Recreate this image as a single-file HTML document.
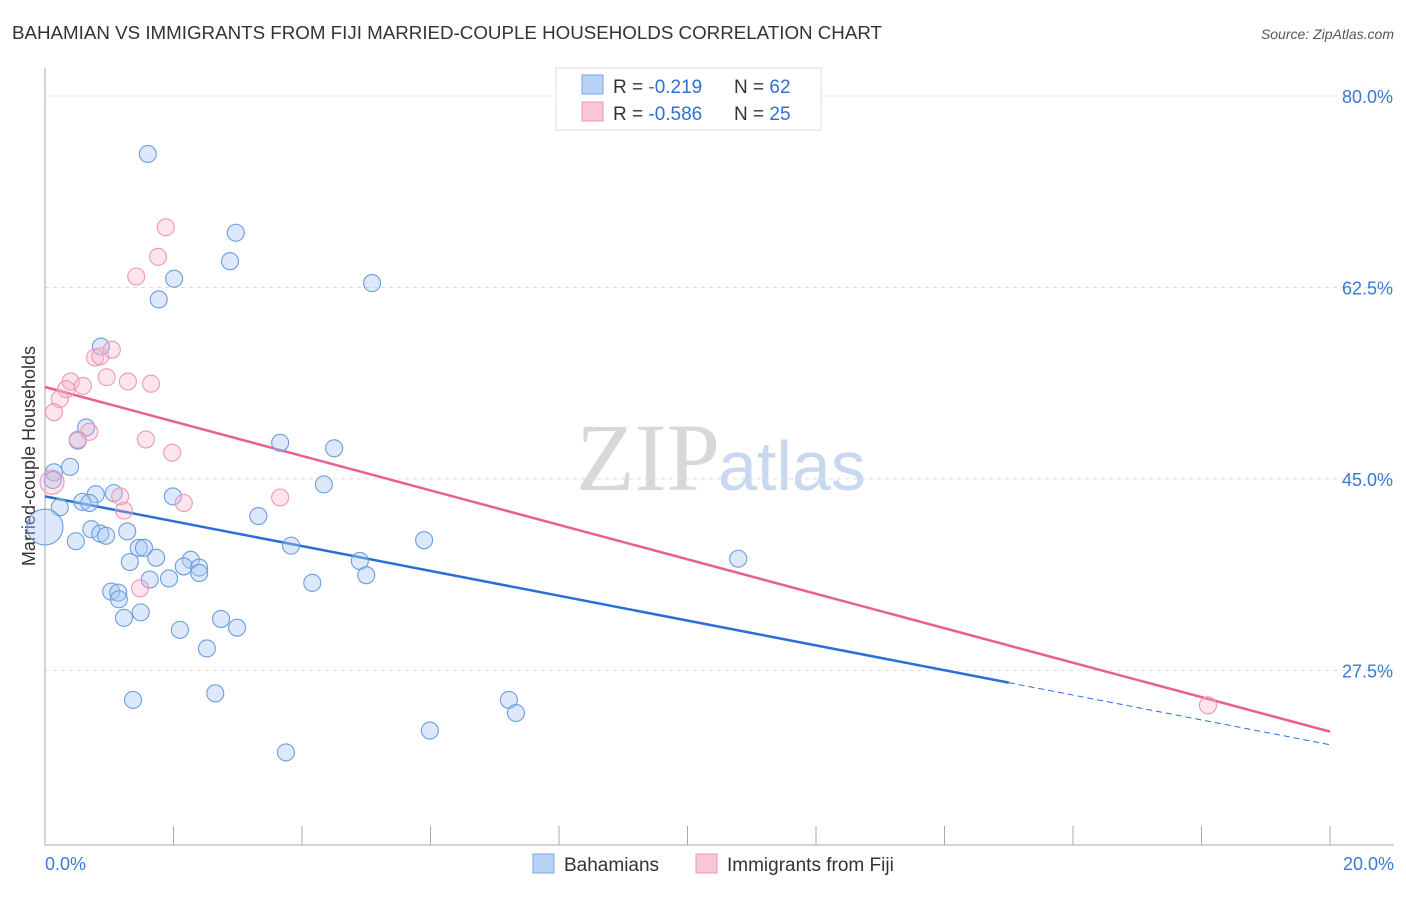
<!DOCTYPE html>
<html><head><meta charset="utf-8"><style>
body{margin:0;background:#fff;font-family:"Liberation Sans",sans-serif;}
</style></head><body>
<svg id="chart" width="1406" height="892" xmlns="http://www.w3.org/2000/svg">
<text x="12" y="39" font-size="18" fill="#333" textLength="870" lengthAdjust="spacingAndGlyphs">BAHAMIAN VS IMMIGRANTS FROM FIJI MARRIED-COUPLE HOUSEHOLDS CORRELATION CHART</text>
<text x="1394" y="39" font-size="14" fill="#555" font-style="italic" text-anchor="end">Source: ZipAtlas.com</text>
<text x="720" y="490" font-size="96" fill="#d8d8d8" text-anchor="end" font-family="Liberation Serif">ZIP</text>
<text x="718" y="490" font-size="70" fill="#c8d8ee">atlas</text>
<text transform="translate(35,456) rotate(-90)" font-size="18" fill="#333" text-anchor="middle">Married-couple Households</text>
<g id="grid"></g><g id="ticks"></g><g id="lines"></g><g id="pts"></g>
<g>
<rect x="556" y="68" width="265" height="62" fill="#fff" stroke="#ddd"/>
<rect x="582" y="75" width="21" height="19" fill="#b9d3f5" stroke="#7aa6e6"/>
<rect x="582" y="102" width="21" height="19" fill="#f9c6d5" stroke="#ee97b2"/>
<text x="613" y="93" font-size="19" fill="#333">R = <tspan fill="#3070d0"> -0.219</tspan></text>
<text x="734" y="93" font-size="19" fill="#333">N = <tspan fill="#3070d0">62</tspan></text>
<text x="613" y="120" font-size="19" fill="#333">R = <tspan fill="#3070d0">-0.586</tspan></text>
<text x="734" y="120" font-size="19" fill="#333">N = <tspan fill="#3070d0">25</tspan></text>
</g>
<g>
<rect x="533" y="854" width="21" height="19" fill="#b9d3f5" stroke="#7aa6e6"/>
<text x="564" y="871" font-size="19" fill="#333">Bahamians</text>
<text x="727" y="871" font-size="19" fill="#333">Immigrants from Fiji</text>
<rect x="696" y="854" width="21" height="19" fill="#f9c6d5" stroke="#ee97b2"/>
</g>
</svg>
<script>
const yTicks=[80,62.5,45,27.5];
const yTickLabels=["80.0%","62.5%","45.0%","27.5%"];
const xTickLabels=["0.0%","20.0%"];
const blueX=[1.60,2.97,2.88,2.01,1.77,5.09,0.87,0.64,0.51,3.66,4.50,0.39,0.14,0.12,1.99,0.79,1.07,4.34,0.58,0.69,0.23,3.32,0.72,1.28,0.86,0.95,0.48,5.90,3.83,1.46,1.54,1.73,1.32,2.27,10.79,4.90,2.16,2.40,2.40,5.00,1.63,1.93,4.16,1.03,1.14,1.15,1.49,1.23,2.74,2.99,2.10,2.52,2.65,1.37,7.22,7.33,5.99,3.75];
const blueY=[74.7,67.5,64.9,63.3,61.4,62.9,57.1,49.7,48.5,48.3,47.8,46.1,45.6,44.9,43.4,43.6,43.7,44.5,42.9,42.8,42.4,41.6,40.4,40.2,40.0,39.8,39.3,39.4,38.9,38.7,38.7,37.8,37.4,37.6,37.7,37.5,37.0,36.9,36.4,36.2,35.8,35.9,35.5,34.7,34.6,34.0,32.8,32.3,32.2,31.4,31.2,29.5,25.4,24.8,24.8,23.6,22.0,20.0];
const pinkX=[1.88,1.76,1.42,1.04,0.78,0.86,0.96,1.29,1.65,0.40,0.59,0.33,0.23,0.14,0.69,0.51,1.57,1.98,1.17,3.66,2.16,1.23,1.48,18.10];
const pinkY=[68.0,65.3,63.5,56.8,56.1,56.2,54.3,53.9,53.7,53.9,53.5,53.2,52.3,51.1,49.3,48.6,48.6,47.4,43.4,43.3,42.8,42.1,35.0,24.3];
const bigX=[0,0.11], bigY=[40.6,44.7];
const blueTrend=[43.4,20.7], blueSolidEnd=15.0;
const pinkTrend=[53.4,21.9];
const X=v=>45+v/20*1285, Y=v=>96+(80-v)*10.94;
const NS="http://www.w3.org/2000/svg";
function mk(t,a,p){const e=document.createElementNS(NS,t);for(const k in a)e.setAttribute(k,a[k]);document.getElementById(p).appendChild(e);return e;}
yTicks.forEach((t,i)=>{
 const g=mk('line',{x1:45,x2:1394,y1:Y(t),y2:Y(t),stroke:'#ddd','stroke-dasharray':'4,4'},'grid');
 
 
 const l=mk('text',{x:1393,y:Y(t)+7,'font-size':18,fill:'#3a78d8','text-anchor':'end'},'ticks');
 l.textContent=yTickLabels[i];
 
 
});
let ax=mk('line',{x1:45,x2:45,y1:68,y2:845,stroke:'#aaa'},'ticks');


ax=mk('line',{x1:45,x2:1394,y1:845,y2:845,stroke:'#aaa'},'ticks');


for(let i=0;i<=10;i++){const t=mk('line',{x1:X(i*2),x2:X(i*2),y1:826,y2:845,stroke:'#aaa'},'ticks');
 
 }
[[0,'start',45],[20,'end',1394]].forEach((d,i)=>{const t=mk('text',{x:d[2],y:870,'font-size':18,fill:'#3a78d8','text-anchor':d[1]},'ticks');t.textContent=xTickLabels[i];
 
 });
function dot(x,y,r,f,s,n){const c=mk('circle',{cx:X(x),cy:Y(y),r:r,fill:f,stroke:s,'stroke-width':1.1},'pts');
 
 }
blueX.forEach((x,i)=>dot(x,blueY[i],8.5,'rgba(170,200,242,0.4)','#6a9de2','bahamian-point'));
pinkX.forEach((x,i)=>dot(x,pinkY[i],8.5,'rgba(245,175,198,0.32)','#ee98b4','fiji-point'));
dot(bigX[0],bigY[0],18,'rgba(170,200,242,0.4)','#6a9de2','bahamian-point-large');
dot(bigX[1],bigY[1],12,'rgba(245,175,198,0.32)','#ee98b4','fiji-point-large');
const by=x=>blueTrend[0]+(blueTrend[1]-blueTrend[0])*x/20;
let ln=mk('line',{x1:X(0),y1:Y(by(0)),x2:X(blueSolidEnd),y2:Y(by(blueSolidEnd)),stroke:'#2a6fd6','stroke-width':2.5},'lines');


ln=mk('line',{x1:X(blueSolidEnd),y1:Y(by(blueSolidEnd)),x2:X(20),y2:Y(by(20)),stroke:'#2a6fd6','stroke-width':1,'stroke-dasharray':'6,4'},'lines');


ln=mk('line',{x1:X(0),y1:Y(pinkTrend[0]),x2:X(20),y2:Y(pinkTrend[1]),stroke:'#e8608c','stroke-width':2.5},'lines');


</script>
</body></html>
